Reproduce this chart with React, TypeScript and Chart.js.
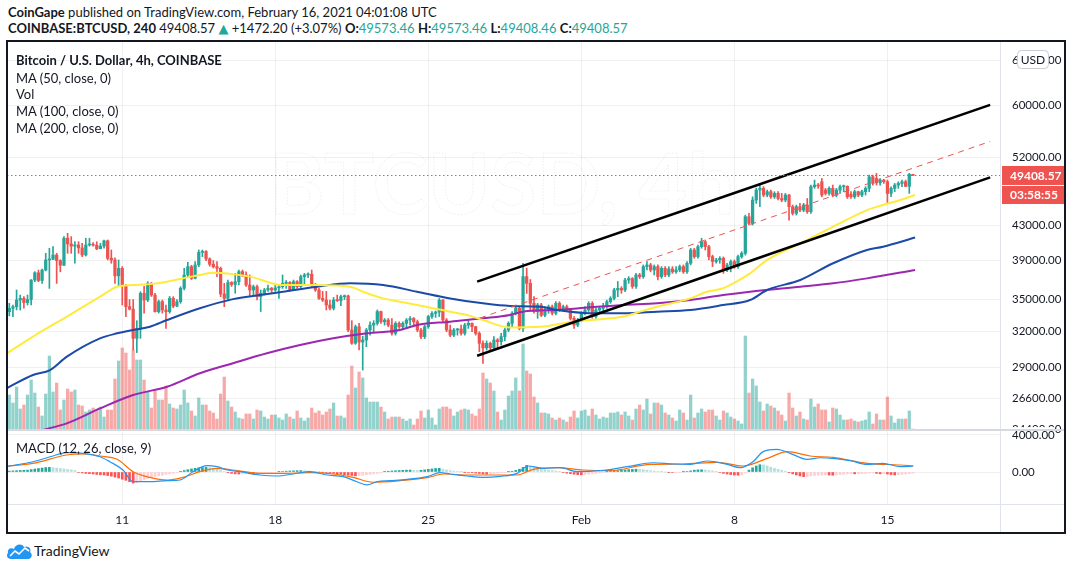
import React, { useEffect, useRef } from 'react';
import { Chart, registerables } from 'chart.js';

Chart.register(...registerables);

const FONT = "Lato, 'Noto Sans', 'DejaVu Sans', sans-serif";
const TEAL = '#26a69a';
const RED = '#ef5350';
const INK = '#131722';
const GRID = 'rgba(42,46,57,0.07)';

// ---- 4h candles, Jan 5 20:00 UTC (index 0) .. Feb 16 04:00 UTC (index 248)
const OPEN = [
  33840, 34160, 34300, 34950, 35110, 34700, 35000, 36950, 37700, 36900,
  37990, 39070, 39150, 39610, 39000, 38500, 41500, 40850, 40600, 40730,
  40400, 39610, 40730, 40800, 40700, 40300, 40600, 41200, 39250, 39070,
  37380, 38170, 36380, 34310, 34080, 31420, 32300, 35610, 34950, 36610,
  35440, 33840, 34790, 34000, 33840, 35110, 34370, 34790, 36110, 37470,
  38350, 37120, 38530, 39900, 40000, 39180, 38600, 38350, 38170, 35540,
  35110, 36700, 36500, 36780, 37820, 37470, 36440, 35940, 36270, 35280,
  35610, 35940, 36100, 35940, 36150, 36270, 36610, 36700, 35940, 36780,
  36270, 37300, 37470, 37550, 36450, 35940, 35110, 34950, 34470, 34160,
  34950, 34900, 35280, 35350, 32160, 31000, 32450, 31100, 31280, 32160,
  32600, 32760, 33850, 32900, 33060, 32600, 31860, 32760, 32450, 32760,
  33060, 33200, 32900, 32160, 31570, 32450, 33380, 33690, 33800, 34950,
  33060, 32160, 31700, 32160, 32250, 31860, 32600, 32760, 32450, 31860,
  30990, 30600, 30990, 30600, 31280, 31130, 31570, 32160, 32760, 33690,
  34150, 32300, 37300, 36610, 34630, 33850, 34470, 33500, 34000, 34310,
  33690, 34630, 34000, 34310, 34000, 33220, 32600, 33060, 33690, 34000,
  34630, 33380, 34000, 34150, 34310, 34790, 35110, 35940, 36100, 35940,
  36950, 37100, 36300, 37470, 37300, 38350, 38530, 37990, 38350, 37300,
  38170, 37470, 38100, 37800, 38000, 38350, 37800, 38710, 40170, 39430,
  40540, 41100, 40540, 39430, 38900, 39070, 39250, 37990, 38530, 38890,
  38350, 39430, 39800, 44060, 43250, 46150, 47450, 47670, 46800, 47230,
  46570, 47010, 46350, 46150, 46790, 45300, 44470, 45300, 44880, 45510,
  44670, 47890, 48110, 48560, 47450, 47010, 47670, 46790, 47450, 47890,
  47950, 46900, 46570, 47230, 46790, 47230, 47670, 49230, 49000, 48400,
  48780, 48560, 47010, 47670, 48110, 48330, 48560, 47940, 49573.46,
];
const HIGH = [
  34630, 34470, 35940, 35440, 35280, 35440, 37000, 37820, 37990, 38100,
  39800, 40360, 40540, 39800, 39100, 41690, 42070, 41690, 41110, 41100,
  40920, 41500, 41500, 41000, 41100, 40920, 41300, 41300, 40170, 39300,
  39070, 38350, 36500, 35000, 35000, 33000, 35770, 36300, 36780, 36700,
  35600, 34950, 34950, 34470, 35300, 35280, 35000, 36270, 38170, 38800,
  38500, 38890, 40170, 40170, 40100, 39300, 39000, 38890, 38300, 36610,
  36950, 36780, 37640, 37990, 37990, 37800, 37470, 36440, 36440, 35940,
  36100, 36440, 36200, 36400, 36400, 37470, 36900, 36800, 36950, 36900,
  37470, 37640, 37700, 37990, 36600, 36100, 35800, 35800, 34950, 35200,
  35440, 35440, 35440, 35440, 33000, 32600, 32760, 31600, 32300, 32900,
  33000, 34000, 33900, 33200, 33200, 33200, 32900, 32900, 32900, 33200,
  33380, 33300, 33060, 32300, 32600, 33500, 33850, 33900, 35100, 35000,
  33200, 32600, 32300, 32300, 32600, 32760, 33000, 32800, 32500, 32000,
  31200, 31200, 31100, 31570, 31400, 31860, 32300, 32900, 33850, 34470,
  34300, 38710, 38200, 37000, 35280, 34630, 34630, 34310, 34470, 34470,
  34790, 34790, 34470, 34470, 34150, 33380, 33220, 33850, 34310, 34790,
  34790, 34150, 34310, 34630, 34950, 35280, 36100, 36800, 36270, 37120,
  37300, 37200, 37640, 37640, 38530, 38890, 38700, 38530, 38530, 38350,
  38350, 38350, 38350, 38350, 38530, 38530, 38890, 40360, 40360, 40730,
  41500, 41300, 40700, 39600, 39250, 39430, 39400, 38710, 39070, 39070,
  39600, 39980, 44260, 44470, 46570, 47700, 48100, 47890, 47450, 47450,
  47230, 47230, 47010, 47010, 46900, 45510, 45510, 45720, 45720, 46350,
  48110, 48780, 48330, 49000, 47670, 47890, 48110, 47670, 48110, 48110,
  48000, 47230, 47450, 47300, 47450, 47890, 49460, 49460, 49700, 49000,
  48900, 48780, 47890, 48330, 48560, 48780, 48780, 49700, 49573.46,
];
const LOW = [
  33450, 33380, 34000, 34000, 34160, 34470, 34470, 36780, 36780, 36600,
  37900, 36100, 39100, 36600, 37800, 38450, 39800, 39800, 38710, 39800,
  39430, 39500, 40600, 40600, 40200, 40300, 40360, 39070, 38710, 36610,
  36300, 34470, 33380, 34000, 30420, 30200, 31420, 33700, 34800, 35300,
  33800, 33700, 33700, 32300, 33700, 34200, 34300, 34630, 35940, 37300,
  37000, 37050, 38350, 39430, 39000, 38400, 38200, 37300, 35280, 34310,
  34950, 36300, 35610, 36440, 37300, 36300, 35280, 35440, 34950, 33850,
  35440, 35800, 35700, 35800, 35100, 36100, 36100, 35800, 35900, 36100,
  36100, 36450, 37200, 36270, 35800, 35000, 34800, 34000, 34000, 34000,
  34800, 34400, 35000, 32000, 30900, 30900, 30420, 28770, 30700, 31700,
  32000, 32600, 32760, 32600, 32450, 31700, 31700, 32300, 32160, 32300,
  32600, 32450, 32000, 31400, 31400, 32300, 33200, 33300, 33380, 32900,
  32000, 31570, 31570, 31700, 31700, 31700, 32300, 32000, 31700, 30280,
  29310, 30420, 30420, 30500, 30500, 30840, 31200, 32000, 32450, 33530,
  32160, 32000, 35600, 34000, 33690, 33220, 33380, 33380, 33690, 33530,
  33530, 33850, 33850, 33850, 33060, 32300, 32450, 32900, 33530, 33850,
  33220, 33220, 33690, 33850, 34150, 34630, 34950, 35280, 35610, 35780,
  36610, 36100, 36100, 37100, 37120, 37990, 37800, 37470, 36950, 37120,
  37300, 37300, 37640, 37640, 37800, 37640, 37640, 38530, 39250, 39250,
  40360, 40170, 39070, 38350, 38710, 38710, 37640, 37820, 37800, 38170,
  38170, 39250, 39600, 43050, 43050, 45720, 45300, 46570, 46570, 46350,
  46350, 46150, 45930, 45930, 43650, 44260, 44260, 44670, 44670, 44470,
  44470, 47670, 47670, 46570, 46790, 46790, 46570, 46570, 47010, 47230,
  46350, 46350, 46350, 46570, 46570, 46790, 47230, 48110, 48110, 48110,
  48330, 45720, 46570, 47230, 47670, 47890, 47890, 47010, 49408.46,
];
const CLOSE = [
  34160, 34300, 34950, 35110, 34700, 35000, 36950, 37700, 36900, 37990,
  39070, 39150, 39610, 39000, 38500, 41500, 40850, 40600, 40730, 40400,
  39610, 40730, 40800, 40700, 40300, 40600, 41200, 39250, 39070, 37380,
  38170, 36380, 34310, 34080, 31420, 32300, 35610, 34950, 36610, 35440,
  33840, 34790, 34000, 33840, 35110, 34370, 34790, 36110, 37470, 38350,
  37120, 38530, 39900, 40000, 39180, 38600, 38350, 38170, 35540, 35110,
  36700, 36500, 36780, 37820, 37470, 36440, 35940, 36270, 35280, 35610,
  35940, 36100, 35940, 36150, 36270, 36610, 36700, 35940, 36780, 36270,
  37300, 37470, 37550, 36450, 35940, 35110, 34950, 34470, 34160, 34950,
  34900, 35280, 35350, 32160, 31000, 32450, 31100, 31280, 32160, 32600,
  32760, 33850, 32900, 33060, 32600, 31860, 32760, 32450, 32760, 33060,
  33200, 32900, 32160, 31570, 32450, 33380, 33690, 33800, 34950, 33060,
  32160, 31700, 32160, 32250, 31860, 32600, 32760, 32450, 31860, 30990,
  30600, 30990, 30600, 31280, 31130, 31570, 32160, 32760, 33690, 34150,
  32300, 37300, 36610, 34630, 33850, 34470, 33500, 34000, 34310, 33690,
  34630, 34000, 34310, 34000, 33220, 32600, 33060, 33690, 34000, 34630,
  33380, 34000, 34150, 34310, 34790, 35110, 35940, 36100, 35940, 36950,
  37100, 36300, 37470, 37300, 38350, 38530, 37990, 38350, 37300, 38170,
  37470, 38100, 37800, 38000, 38350, 37800, 38710, 40170, 39430, 40540,
  41100, 40540, 39430, 38900, 39070, 39250, 37990, 38530, 38890, 38350,
  39430, 39800, 44060, 43250, 46150, 47450, 47670, 46800, 47230, 46570,
  47010, 46350, 46150, 46790, 45300, 44470, 45300, 44880, 45510, 44670,
  47890, 48110, 47990, 46790, 47010, 47670, 46790, 47450, 47890, 47950,
  46570, 46570, 47230, 46790, 47230, 47670, 49230, 48330, 48400, 48780,
  48560, 47010, 47670, 48110, 48330, 48560, 47940, 49573.46, 49408.57,
];
// volume per candle, thousand BTC
const VOLUME = [
  10.5, 8.1, 12.9, 6.3, 7.5, 10.5, 15.0, 11.1, 6.9, 4.2,
  10.8, 22.2, 11.4, 14.1, 6.0, 9.0, 12.3, 11.4, 12.0, 7.5,
  7.2, 5.4, 6.0, 6.6, 6.0, 6.9, 3.9, 6.0, 6.0, 15.3,
  20.7, 24.6, 23.1, 18.0, 24.0, 21.0, 21.0, 15.0, 11.4, 6.6,
  11.7, 9.0, 9.0, 13.2, 7.8, 6.6, 6.3, 7.5, 12.0, 8.1,
  5.7, 4.2, 9.6, 7.5, 7.5, 5.7, 5.1, 3.3, 10.8, 15.9,
  8.7, 6.9, 5.4, 3.6, 3.3, 4.8, 4.8, 3.3, 6.0, 5.7,
  3.9, 3.3, 4.5, 4.5, 3.6, 3.0, 4.8, 3.9, 3.3, 5.7,
  3.6, 2.7, 3.6, 6.6, 5.1, 5.7, 4.5, 5.4, 6.3, 8.1,
  4.2, 4.2, 3.6, 10.5, 19.2, 12.6, 17.4, 15.6, 9.6, 8.4,
  8.4, 8.4, 6.9, 5.4, 3.3, 3.9, 3.9, 3.9, 3.3, 2.7,
  3.3, 1.5, 3.3, 5.7, 3.6, 6.0, 3.6, 1.5, 6.3, 6.9,
  6.9, 6.3, 4.2, 5.4, 6.0, 6.3, 6.0, 4.8, 4.2, 6.3,
  17.1, 15.3, 14.1, 11.7, 5.4, 3.0, 6.0, 10.2, 11.7, 15.6,
  11.7, 25.8, 17.7, 16.8, 9.9, 8.1, 5.1, 5.1, 4.8, 3.6,
  3.0, 3.6, 3.0, 2.4, 3.9, 5.7, 3.6, 5.7, 6.0, 4.2,
  6.3, 4.5, 3.3, 3.9, 3.6, 5.1, 5.1, 5.4, 4.5, 5.4,
  4.2, 3.0, 6.3, 7.5, 6.0, 9.3, 4.8, 8.1, 8.1, 7.5,
  5.1, 4.5, 3.6, 2.7, 6.0, 5.1, 3.0, 10.5, 3.6, 5.1,
  6.3, 5.4, 6.0, 6.0, 4.2, 3.0, 5.7, 5.1, 3.9, 3.3,
  2.7, 1.8, 28.2, 11.1, 15.3, 13.2, 8.4, 5.7, 7.8, 7.2,
  6.6, 5.7, 4.5, 2.7, 11.1, 6.6, 4.2, 5.4, 3.3, 3.0,
  9.3, 6.9, 7.8, 6.0, 6.0, 2.4, 6.6, 6.3, 4.5, 3.0,
  3.0, 3.3, 2.7, 2.4, 2.7, 3.0, 5.4, 1.8, 4.8, 3.0,
  3.0, 9.9, 4.2, 2.1, 3.3, 3.3, 3.3, 5.7, 0.3,
];
// MACD histogram per candle
const HIST = [
  100, 120, 150, 170, 180, 200,
  260, 320, 380, 430, 480, 500,
  460, 420, 380, 330, 280, 220, 160,
  -50, -100, -150, -180, -220, -260,
  -300, -330, -380, -450, -550,
  -650, -780, -900, -1050, -1200, -1150,
  -1000, -850, -700, -600, -500, -420, -340, -260, -200, -140, -80,
  80, 160, 250, 330, 400, 460,
  480, 500, 470, 420,
  330, 200, 60, -80, -150, -200,
  -220, -200, -180, -200, -230, -200, -170, -150, -120, -90, -60,
  30, 60, 90, 110, 130, 140, 150, 130, 110, 90, 60, 30, -20, -60, -100,
  -150, -200, -250, -300, -350, -380, -420, -400, -350, -300,
  -250, -200, -150, -100,
  40, 80, 110, 140, 160, 180, 200, 210, 180, 160, 190, 230, 280, 330, 380, 400,
  300, 220, 150, 100, 60, 30, -20, -50, -80, -120, -160, -200, -230, -200, -160, -120, -80,
  -40, 20, 80, 180, 300, 500, 720,
  600, 500, 400, 320, 260, 200, 150, 100, 60,
  -60, -120, -180, -240, -290, -300, -270, -240, -200, -150, -100, -50,
  20, 60, 100, 140, 180, 220, 260, 280, 300, 280, 250, 200,
  150, 100, 60, 30, 0, -30, -50, -40, -20, 20, 60,
  120, 200, 230, 240, 210, 170, 120,
  40, -50, -150, -220, -280, -330, -350, -300,
  -100, 200, 450, 650, 790, 760,
  650, 520, 400, 280, 180, 80,
  -80, -200, -320, -420, -500, -480, -420, -380, -350,
  -320, -300, -330, -350, -320, -280, -240, -200, -180, -200, -190, -170, -150,
  -120, -100, -150, -200, -180, -220,
  -280, -320, -300, -260, -220, -180, -120,
];

// moving averages [candle index, price]
const MA50 = [
  [-0.6, 30150], [6.5, 31570], [15.8, 33380], [24.9, 35280], [29.6, 36270], [34, 36440], [38.6, 36530],
  [43.3, 36780], [47.7, 37120], [52.3, 37470], [56, 37700], [61.4, 37560], [66.1, 37300], [75.1, 36440],
  [84.5, 36440], [93.5, 36270], [98.2, 35610], [102.6, 35110], [107.2, 34790], [111.9, 34470],
  [116.3, 34160], [121, 33840], [125.6, 33530], [130, 33060], [137.4, 32390], [145.7, 32450],
  [154.7, 32910], [159.4, 33060], [168.5, 33380], [173.1, 33840], [177.8, 34310], [186.9, 35110],
  [191.5, 35770], [195.9, 36110], [198.7, 36610], [203.3, 37640], [208, 39070], [217.1, 40920],
  [226.1, 42850], [235.4, 44880], [239.8, 45510], [244.5, 46150], [248.6, 46790],
];
const MA100 = [
  [-0.6, 27370], [6.5, 28380], [11.2, 28770], [15.8, 29860], [24.9, 31420], [29.6, 31860], [34, 32160],
  [38.6, 32450], [43.3, 33060], [52.3, 34160], [61.4, 35040], [68.8, 35440], [75.1, 35770],
  [84.5, 36270], [93.5, 36610], [102.6, 36440], [111.9, 35770], [121, 35110], [130, 34630],
  [137.4, 34380], [145.7, 34310], [150.3, 34000], [159.4, 33690], [168.5, 33690], [177.8, 33840],
  [186.9, 34000], [195.9, 34470], [203.3, 34950], [208, 35940], [217.1, 36950], [226.1, 38710],
  [235.4, 40170], [239.8, 40540], [248.6, 41580],
];
const MA200 = [
  [9.2, 24360], [15.8, 24810], [24.9, 25860], [34, 26840], [43.3, 27470], [52.3, 28510], [61.4, 29320],
  [70.7, 30140], [79.8, 30840], [88.9, 31420], [98.2, 31860], [107.2, 32160], [111.9, 32610],
  [121, 32910], [130, 33220], [137.4, 33530], [141, 33840], [150.3, 34000], [159.4, 34250],
  [168.5, 34470], [177.8, 34630], [186.9, 34950], [195.9, 35440], [203.3, 35770], [217.1, 36270],
  [226.1, 36610], [235.4, 37120], [248.6, 37990],
];
const MACD_LINE = [
  [-0.6, 600], [6.5, 1110], [11.2, 1650], [15.8, 2090], [20.3, 2020], [24.9, 1650], [27.6, 1110],
  [31.2, 216], [34, -1050], [38.6, -1050], [43.3, -940], [46.9, -864], [50.4, 36], [54.3, 684],
  [57, 576], [59.8, 216], [63.3, 36], [68.8, -324], [73.5, -432], [77.9, -216], [82.5, 36],
  [87.2, -324], [91.6, -504], [95.4, -1050], [98.2, -1400], [100.9, -1050], [104.5, -940],
  [109.2, -790], [114.7, -500], [118.2, -72], [121, -216], [125.6, -432], [130, -580], [134.7, -470],
  [139.4, -144], [142.4, 648], [146.5, 396], [151.2, 468], [155.8, 36], [162.2, 144], [169.6, 576],
  [176.7, 1000], [182.2, 864], [186.9, 828], [191.5, 1188], [197, 828], [200.6, 468], [204.1, 1110],
  [206.9, 2200], [210.7, 2450], [214.3, 2020], [219, 1370], [222.5, 1540], [226.1, 1470],
  [230.8, 1220], [235.4, 828], [239.8, 936], [244.5, 576], [248.1, 648],
];
const SIGNAL_LINE = [
  [-0.6, 620], [6.5, 936], [15.8, 1836], [20.3, 1944], [24.9, 1728], [29.6, 1370], [34, 36],
  [38.6, -580], [43.3, -864], [47.7, -580], [52.3, 36], [57, 396], [61.4, 216], [68.8, -144],
  [75.1, -144], [82.5, -72], [88.9, -216], [94.3, -580], [99.8, -1110], [107.2, -940], [114.7, -610],
  [119.3, -216], [125.6, -324], [134.7, -324], [139.4, -324], [143.8, 290], [150.3, 468],
  [157.5, 216], [164.9, 144], [175.9, 828], [184.9, 864], [194.3, 1050], [201.4, 648], [208, 1470],
  [213.5, 2200], [219.8, 1728], [226.1, 1580], [235.4, 936], [244.5, 756], [248.1, 648],
];
// trend channel drawings [candle index, price]
const CHANNEL_UPPER = [[128.4, 36780], [269.2, 60120]];
const CHANNEL_LOWER = [[128.4, 29940], [269.2, 49140]];
const CHANNEL_MID = [[129.2, 33250], [269.2, 54310]];

const DAY_TICKS = [31, 73, 115, 157, 199, 241];
const DAY_LABELS = ['11', '18', '25', 'Feb', '8', '15'];
const PRICE_TICKS = [24400, 26600, 29000, 32000, 35000, 39000, 43000, 52000, 60000, 68000];
const MACD_TICKS = [0, 4000];
const LAST_PRICE = 49408.57;
const COUNTDOWN = '03:58:55';

const decor = {
  id: 'decor',
  beforeDatasetsDraw(chart: any) {
    const { ctx } = chart;
    ctx.save();
    ctx.font = `bold 84px ${FONT}`;
    ctx.textAlign = 'center';
    ctx.textBaseline = 'middle';
    ctx.strokeStyle = 'rgba(19,23,34,0.07)';
    ctx.lineWidth = 1;
    ctx.setLineDash([1.5, 1.5]);
    ctx.strokeText('BTCUSD, 4h', 495, 146);
    ctx.restore();
  },
  afterDatasetsDraw(chart: any) {
    const { ctx, chartArea } = chart;
    const y = Math.round(chart.scales.y.getPixelForValue(LAST_PRICE)) + 0.5;
    ctx.save();
    ctx.strokeStyle = RED;
    ctx.lineWidth = 1;
    ctx.setLineDash([1.5, 2.5]);
    ctx.beginPath();
    ctx.moveTo(chartArea.left, y);
    ctx.lineTo(chartArea.right, y);
    ctx.stroke();
    ctx.restore();
  },
  afterDraw(chart: any) {
    const { ctx, chartArea, width, height } = chart;
    const yP = chart.scales.y;
    ctx.save();
    ctx.strokeStyle = '#e0e3eb';
    ctx.lineWidth = 1;
    ctx.beginPath();
    ctx.moveTo(chartArea.right + 0.5, 0);
    ctx.lineTo(chartArea.right + 0.5, height);
    ctx.moveTo(0, chartArea.bottom + 0.5);
    ctx.lineTo(width, chartArea.bottom + 0.5);
    ctx.stroke();
    ctx.strokeStyle = '#d6d9e0';
    ctx.lineWidth = 2;
    ctx.beginPath();
    ctx.moveTo(0, yP.bottom);
    ctx.lineTo(width, yP.bottom);
    ctx.stroke();

    // last price label + countdown
    const y = chart.scales.y.getPixelForValue(LAST_PRICE);
    const x0 = chartArea.right + 2;
    ctx.fillStyle = RED;
    ctx.fillRect(x0, y - 9.5, 62, 19);
    ctx.fillRect(x0, y + 10.5, 62, 18);
    ctx.fillStyle = '#ffffff';
    ctx.font = `bold 12px ${FONT}`;
    ctx.textAlign = 'left';
    ctx.textBaseline = 'middle';
    ctx.fillText(LAST_PRICE.toFixed(2), chartArea.right + 10, y + 0.5);
    ctx.fillText(COUNTDOWN, chartArea.right + 10, y + 20);

    // currency box
    const bx = 1010, by = 9, bw = 31, bh = 18;
    ctx.fillStyle = '#ffffff';
    ctx.strokeStyle = '#c9ccd4';
    ctx.lineWidth = 1;
    ctx.beginPath();
    ctx.roundRect(bx + 0.5, by + 0.5, bw, bh, 4);
    ctx.fill();
    ctx.stroke();
    ctx.fillStyle = INK;
    ctx.font = `12px ${FONT}`;
    ctx.textAlign = 'center';
    ctx.fillText('USD', bx + bw / 2 + 0.5, by + bh / 2 + 1);
    ctx.restore();
  },
};

const pts = (a: number[][]) => a.map(([x, y]) => ({ x, y }));

export default function App() {
  const ref = useRef<HTMLCanvasElement>(null);

  useEffect(() => {
    if (!ref.current) return;
    Chart.defaults.font.family = FONT;
    const idx = CLOSE.map((_, i) => i);
    const up = idx.map((i) => CLOSE[i] >= OPEN[i]);
    const candleColor = idx.map((i) => (up[i] ? TEAL : RED));
    const volColor = idx.map((i) => (up[i] ? 'rgba(38,166,154,0.5)' : 'rgba(239,83,80,0.5)'));
    const histColor = HIST.map((h, i) => {
      const p = i > 0 ? HIST[i - 1] : 0;
      if (h >= 0) return h >= p ? '#26a69a' : '#b2dfdb';
      return h < p ? '#ff5252' : '#ffcdd2';
    });

    const lineBase = {
      type: 'line',
      xAxisID: 'x',
      pointRadius: 0,
      fill: false,
      cubicInterpolationMode: 'monotone',
      borderJoinStyle: 'round',
    };

    const chart = new Chart(ref.current, {
      type: 'bar',
      data: {
        datasets: [
          { ...lineBase, data: pts(CHANNEL_UPPER), yAxisID: 'y', borderColor: '#000000', borderWidth: 2.5, tension: 0, order: 0 } as any,
          { ...lineBase, data: pts(CHANNEL_LOWER), yAxisID: 'y', borderColor: '#000000', borderWidth: 2.5, tension: 0, order: 0 } as any,
          { ...lineBase, data: pts(CHANNEL_MID), yAxisID: 'y', borderColor: RED, borderWidth: 1, borderDash: [6, 5], tension: 0, order: 0 } as any,
          { ...lineBase, data: pts(MA50), yAxisID: 'y', borderColor: '#ffeb3b', borderWidth: 2, order: 1 } as any,
          { ...lineBase, data: pts(MA100), yAxisID: 'y', borderColor: '#1c4aa8', borderWidth: 2, order: 1 } as any,
          { ...lineBase, data: pts(MA200), yAxisID: 'y', borderColor: '#9c27b0', borderWidth: 2, order: 1 } as any,
          {
            type: 'bar', data: idx.map((i) => ({ x: i, y: [OPEN[i], CLOSE[i]] })), yAxisID: 'y', xAxisID: 'x',
            backgroundColor: candleColor, barThickness: 2.6, minBarLength: 1, grouped: false, order: 2,
          } as any,
          {
            type: 'bar', data: idx.map((i) => ({ x: i, y: [LOW[i], HIGH[i]] })), yAxisID: 'y', xAxisID: 'x',
            backgroundColor: candleColor, barThickness: 1, grouped: false, order: 3,
          } as any,
          {
            type: 'bar', data: idx.map((i) => ({ x: i, y: [0, VOLUME[i]] })), yAxisID: 'yVol', xAxisID: 'x',
            backgroundColor: volColor, barThickness: 2.6, grouped: false, order: 6,
          } as any,
          { ...lineBase, data: pts(MACD_LINE), yAxisID: 'yMacd', borderColor: '#2196f3', borderWidth: 1.2, order: 1 } as any,
          { ...lineBase, data: pts(SIGNAL_LINE), yAxisID: 'yMacd', borderColor: '#ff6d00', borderWidth: 1.2, order: 1 } as any,
          {
            type: 'bar', data: idx.map((i) => ({ x: i, y: HIST[i] })), yAxisID: 'yMacd', xAxisID: 'x',
            backgroundColor: histColor, barThickness: 2, grouped: false, order: 4,
          } as any,
        ],
      },
      options: {
        animation: false,
        responsive: true,
        maintainAspectRatio: false,
        events: [],
        layout: { padding: 0 },
        plugins: { legend: { display: false }, tooltip: { enabled: false } },
        scales: {
          x: {
            type: 'linear',
            min: -0.63,
            max: 271.9,
            offset: false,
            afterBuildTicks: (s: any) => { s.ticks = DAY_TICKS.map((value) => ({ value })); },
            afterFit: (s: any) => { s.height = 29; s.paddingLeft = 0; s.paddingRight = 0; },
            ticks: {
              autoSkip: false, maxRotation: 0, padding: 9, color: INK, font: { size: 12 },
              callback: (v: any) => DAY_LABELS[DAY_TICKS.indexOf(Number(v))] ?? '',
            },
            grid: { color: GRID, drawTicks: false, offset: false },
            border: { display: false },
          },
          y: {
            type: 'logarithmic',
            position: 'right',
            stack: 'pane',
            stackWeight: 389,
            min: 24354,
            max: 71800,
            afterBuildTicks: (s: any) => { s.ticks = PRICE_TICKS.map((value) => ({ value })); },
            afterFit: (s: any) => { s.width = 65; s.paddingTop = 0; s.paddingBottom = 0; },
            ticks: {
              autoSkip: false, padding: 12, color: INK, font: { size: 11.5 },
              callback: (v: any) => Number(v).toFixed(2),
            },
            grid: { color: GRID, drawTicks: false },
            border: { display: false },
          },
          yMacd: {
            type: 'linear',
            position: 'right',
            stack: 'pane',
            stackWeight: 74,
            min: -3459,
            max: 4540,
            afterBuildTicks: (s: any) => { s.ticks = MACD_TICKS.map((value) => ({ value })); },
            afterFit: (s: any) => { s.width = 65; s.paddingTop = 0; s.paddingBottom = 0; },
            ticks: {
              autoSkip: false, padding: 12, color: INK, font: { size: 11.5 },
              showLabelBackdrop: true, backdropColor: '#ffffff', backdropPadding: { top: 1, bottom: 0, left: 0, right: 0 },
              callback: (v: any) => Number(v).toFixed(2),
            },
            grid: { color: GRID, drawTicks: false },
            border: { display: false },
          },
          yVol: {
            type: 'linear',
            display: false,
            min: -22.2,
            max: 116.7,
            afterFit: (s: any) => { s.width = 0; s.paddingTop = 0; s.paddingBottom = 0; },
          },
        },
      } as any,
      plugins: [decor],
    });
    return () => chart.destroy();
  }, []);

  const abs = (left: number, top: number, extra: any = {}) => ({
    position: 'absolute' as const, left, top, whiteSpace: 'nowrap' as const, ...extra,
  });
  const txt = { fontFamily: FONT, fontSize: 13, color: INK, lineHeight: '16px' };
  const teal = { color: TEAL };

  return (
    <div style={{ position: 'fixed', left: 0, top: 0, width: 1073, height: 570, background: '#ffffff', overflow: 'hidden' }}>
      <div style={abs(8, 4, txt)}>
        <b>CoinGape</b> published on TradingView.com, February 16, 2021 04:01:08 UTC
      </div>
      <div style={abs(8, 20, txt)}>
        <b>COINBASE:BTCUSD, 240</b> 49408.57 <span style={teal}>▲</span> +1472.20 (+3.07%){' '}
        <b>O:</b><span style={teal}>49573.46</span> <b>H:</b><span style={teal}>49573.46</span>{' '}
        <b>L:</b><span style={teal}>49408.46</span> <b>C:</b><span style={teal}>49408.57</span>
      </div>

      <div style={{ position: 'absolute', left: 7, top: 41, width: 1058, height: 492 }}>
        <canvas ref={ref} />
      </div>

      <div style={abs(16, 52, txt)}><b>Bitcoin / U.S. Dollar, 4h, COINBASE</b></div>
      <div style={abs(16, 70, txt)}>MA (50, close, 0)</div>
      <div style={abs(16, 86, txt)}>Vol</div>
      <div style={abs(16, 103, txt)}>MA (100, close, 0)</div>
      <div style={abs(16, 120, txt)}>MA (200, close, 0)</div>
      <div style={abs(16, 440, txt)}>MACD (12, 26, close, 9)</div>

      <div style={{ position: 'absolute', left: 6, top: 40, width: 1060, height: 494, boxSizing: 'border-box', border: '2px solid #131722', pointerEvents: 'none' }} />

      <svg style={{ position: 'absolute', left: 6, top: 542 }} width="27" height="18" viewBox="0 0 27 18">
        <path d="M5 17 C1 17 0 13 2 11 C1 7 5 5 8 7 C9 2 16 1 18 5 C22 3 26 7 24 10 C27 12 26 17 22 17 Z" fill="#2196f3" />
        <path d="M4 14 L9 9 L13 12 L19 6 L23 9" stroke="#ffffff" strokeWidth="1.6" fill="none" />
      </svg>
      <div style={abs(34, 543, { ...txt, fontSize: 14 })}>TradingView</div>
    </div>
  );
}
